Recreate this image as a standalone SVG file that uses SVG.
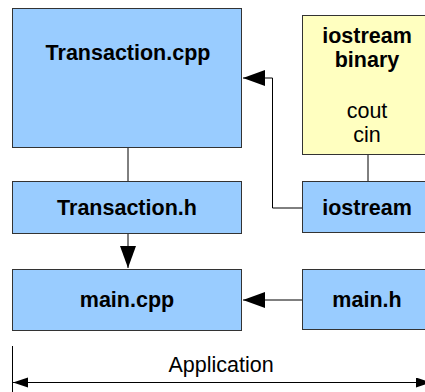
<svg xmlns="http://www.w3.org/2000/svg" width="425" height="392" viewBox="0 0 425 392">
<style>
.box{fill:#99ccff;stroke:#333;stroke-width:1}
.bin{fill:#ffffc0;stroke:#333;stroke-width:1}
.t{font-family:"Liberation Sans",Arial,sans-serif;font-size:21.5px;text-anchor:middle;fill:#000}
.b{font-weight:bold}
.ln{fill:none;stroke:#000;stroke-width:1}
</style>
<defs>
<marker id="ah" markerUnits="userSpaceOnUse" markerWidth="24" markerHeight="18" refX="22" refY="8" orient="auto"><path d="M0,0 L22,8 L0,16 Z" fill="#000"/></marker>
<marker id="sh" markerUnits="userSpaceOnUse" markerWidth="16" markerHeight="12" refX="15" refY="5" orient="auto"><path d="M0,0 L15,5 L0,10 Z" fill="#000"/></marker>
</defs>
<rect width="425" height="392" fill="#fff"/>
<g id="connectors">
<line class="ln" x1="128" y1="147" x2="128" y2="182" stroke="#555"/>
<line class="ln" x1="128" y1="234" x2="128" y2="268" marker-end="url(#ah)"/>
<line class="ln" x1="368" y1="155" x2="368" y2="182"/>
<polyline class="ln" points="302,208 272.5,208 272.5,78 243,78" marker-end="url(#ah)"/>
<line class="ln" x1="302" y1="300" x2="243" y2="300" marker-end="url(#ah)"/>
</g>
<g id="Transaction_cpp"><rect class="box" x="12.5" y="8.5" width="229" height="139"/><text class="t b" x="128" y="60">Transaction.cpp</text></g>
<g id="Transaction_h"><rect class="box" x="12.5" y="181.5" width="229" height="52"/><text class="t b" x="127" y="215">Transaction.h</text></g>
<g id="main_cpp"><rect class="box" x="12.5" y="269.5" width="229" height="61"/><text class="t b" x="127" y="307">main.cpp</text></g>
<g id="iostream_binary"><rect class="bin" x="302.5" y="15.5" width="140" height="139"/><text class="t b" x="367" y="43">iostream</text><text class="t b" x="367" y="67">binary</text><text class="t" x="367" y="118">cout</text><text class="t" x="367" y="142">cin</text></g>
<g id="iostream"><rect class="box" x="302.5" y="181.5" width="140" height="51"/><text class="t b" x="367" y="215">iostream</text></g>
<g id="main_h"><rect class="box" x="302.5" y="269.5" width="140" height="60"/><text class="t b" x="367" y="307">main.h</text></g>
<g id="application">
<line class="ln" x1="12.5" y1="346" x2="12.5" y2="392"/>
<line class="ln" x1="220" y1="382.5" x2="13" y2="382.5" marker-end="url(#sh)"/>
<line class="ln" x1="220" y1="382.5" x2="431" y2="382.5" marker-end="url(#sh)"/>
<text class="t" x="221" y="372">Application</text>
</g>
</svg>
